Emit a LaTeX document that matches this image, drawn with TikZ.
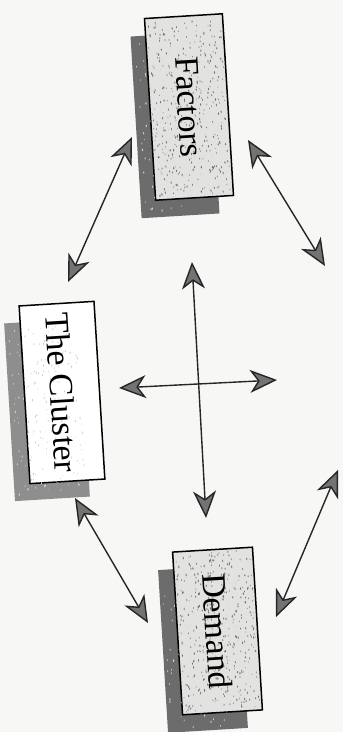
\documentclass[tikz,border=0pt]{standalone}
\usepackage{fontspec}
\setmainfont{Liberation Serif}
\usetikzlibrary{arrows.meta}
\definecolor{paper}{HTML}{F7F7F5}
\definecolor{boxfill}{HTML}{E2E2E0}
\definecolor{shadowdark}{HTML}{6C6C6C}
\definecolor{shadowmid}{HTML}{8E8E8E}
\definecolor{arrowgray}{HTML}{737373}
\tikzset{
  box/.style={draw=black, line width=1.5pt, rotate=-86.5, minimum height=#1, inner sep=0pt},
  shade box/.style={rotate=-86.5, inner sep=0pt},
  label text/.style={rotate=-86.5, font=\fontsize{34}{40}\selectfont, inner sep=0pt},
  dbl/.style={draw=black!85, line width=1.4pt,
    {Stealth[length=27pt,width=23pt,inset=8pt,fill=arrowgray]}-{Stealth[length=27pt,width=23pt,inset=8pt,fill=arrowgray]}}
}
\newcommand{\speckle}[5]{% center, half w, half h, count, color
  \foreach \i in {1,...,#4}{
    \pgfmathsetmacro\rx{rand*#2}
    \pgfmathsetmacro\ry{rand*#3}
    \pgfmathsetmacro\rr{0.5+0.6*rnd}
    \fill[#5, shift={(#1)}, rotate=3.5] (\rx,\ry) ellipse ({\rr*0.6} and {\rr*1.4});
  }}
\begin{document}
\begin{tikzpicture}[x=1pt,y=1pt]
\pgfmathsetseed{11}
\useasboundingbox (0,0) rectangle (343,732);
\fill[paper] (0,0) rectangle (343,732);

% Factors
\node[shade box, fill=shadowdark, minimum width=182, minimum height=78] (facsh) at (175,607) {};
\node[box=78, fill=boxfill, minimum width=182] (fac) at (189,625) {};
% Cluster
\node[shade box, fill=shadowmid, minimum width=178, minimum height=75] (clush) at (47,322) {};
\node[box=75, fill=white, minimum width=178] (clu) at (62,339.5) {};
% Demand
\node[shade box, fill=shadowdark, minimum width=163, minimum height=80] (demsh) at (203,83) {};
\node[box=80, fill=boxfill, minimum width=163] (dem) at (217.5,101) {};

\speckle{fac.center}{37}{88}{380}{black!55}
\speckle{dem.center}{38}{79}{380}{black!55}
\speckle{facsh.center}{36}{86}{120}{white!70!gray}
\speckle{clush.center}{34}{85}{180}{white!62!gray}
\speckle{demsh.center}{37}{78}{120}{white!70!gray}

\node[label text] (factxt) at (fac.center) {Factors};
\node[label text] (clutxt) at (clu.center) {The Cluster};
\node[label text] (demtxt) at (dem.center) {Demand};

% arrow end points
\coordinate (c1) at (68,450);  \coordinate (f1) at (132,595);
\coordinate (f2) at (248,592); \coordinate (s1) at (325,466);
\coordinate (c2) at (75,234);  \coordinate (d1) at (148,109);
\coordinate (d2) at (276,115); \coordinate (s2) at (338,262);
\coordinate (v1) at (192,470); \coordinate (v2) at (206,214);
\coordinate (h1) at (119,344); \coordinate (h2) at (277,352);

\draw[dbl] (c1) -- (f1);
\draw[dbl] (f2) -- (s1);
\draw[dbl] (c2) -- (d1);
\draw[dbl] (d2) -- (s2);
\draw[dbl] (v1) -- (v2);
\draw[dbl] (h1) -- (h2);
\end{tikzpicture}
\end{document}
